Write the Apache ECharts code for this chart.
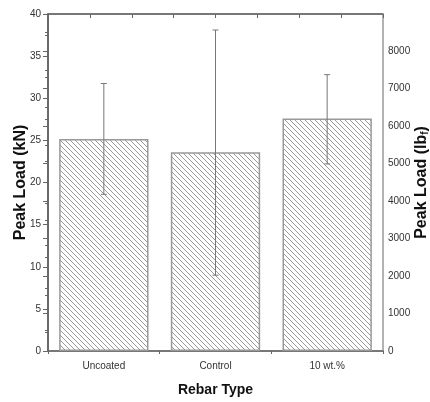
<!DOCTYPE html>
<html>
<head>
<meta charset="utf-8">
<script src="https://cdn.jsdelivr.net/npm/echarts@6/dist/echarts.min.js"></script>
<style>
  html, body { margin: 0; padding: 0; background: #fff; }
  #chart { width: 430px; height: 402px; }
</style>
</head>
<body>
<div id="chart"></div>
<script>
// data
const categories = ['Uncoated', 'Control', '10 wt.%'];
const peakLoad = [25.15, 23.6, 27.6];      // kN
const errLow = [18.6, 9.0, 22.2];          // kN
const errHigh = [31.75, 38.1, 32.8];       // kN
const kNtoLbf = 224.809;

// diagonal hatch tile
function hatch() {
  const c = document.createElement('canvas');
  c.width = 5; c.height = 5;
  const g = c.getContext('2d');
  g.strokeStyle = '#999';
  g.lineWidth = 1;
  [-5, 0, 5].forEach(k => {
    g.beginPath();
    g.moveTo(k, 0);
    g.lineTo(k + 5, 5);
    g.stroke();
  });
  return c;
}

const chart = echarts.init(document.getElementById('chart'));
const axisCol = '#666';
const txtCol = '#333';
const font = 'Liberation Sans';

const option = {
  animation: false,
  textStyle: { fontFamily: font },
  grid: {
    left: 48, top: 14, right: 47, bottom: 51,
    outerBoundsMode: 'none', containLabel: false,
    show: true, borderColor: axisCol, borderWidth: 1
  },
  xAxis: [
    {
      type: 'category',
      data: categories,
      position: 'bottom',
      axisLine: { lineStyle: { color: axisCol, width: 1.5 } },
      axisTick: { alignWithLabel: true, length: 5, lineStyle: { color: axisCol } },
      axisLabel: { color: txtCol, fontSize: 10, margin: 10 },
      name: 'Rebar Type',
      nameLocation: 'middle',
      nameGap: 32,
      nameMoveOverlap: false,
      nameTextStyle: { color: '#111', fontSize: 14, fontWeight: 'bold' }
    },
    {
      type: 'value', min: 0, max: 3, interval: 1, position: 'bottom',
      axisLine: { show: false },
      axisTick: { length: 3, lineStyle: { color: axisCol } },
      axisLabel: { show: false }, splitLine: { show: false }
    },
    {
      type: 'value', min: 0, max: 8, interval: 1, position: 'top',
      axisLine: { show: true, lineStyle: { color: axisCol, width: 1.5 } },
      axisTick: { inside: true, length: 4, lineStyle: { color: axisCol } },
      axisLabel: { show: false }, splitLine: { show: false }
    }
  ],
  yAxis: [
    {
      type: 'value', min: 0, max: 40, interval: 5, position: 'left',
      axisLine: { show: true, lineStyle: { color: axisCol, width: 1.5 } },
      axisTick: { show: true, length: 5, lineStyle: { color: axisCol } },
      minorTick: { show: true, splitNumber: 2, length: 3, lineStyle: { color: axisCol } },
      axisLabel: { color: txtCol, fontSize: 10, margin: 7 },
      splitLine: { show: false },
      name: 'Peak Load (kN)',
      nameLocation: 'middle',
      nameGap: 19,
      nameMoveOverlap: false,
      nameTextStyle: { color: '#111', fontSize: 16, fontWeight: 'bold' }
    },
    {
      type: 'value', min: 0, max: 40 * kNtoLbf, interval: 1000, position: 'right',
      axisLine: { show: true, lineStyle: { color: axisCol, width: 1.5 } },
      axisTick: { show: true, inside: true, length: 5, lineStyle: { color: axisCol } },
      minorTick: { show: true, splitNumber: 2, length: 3, lineStyle: { color: axisCol } },
      axisLabel: { color: txtCol, fontSize: 10, margin: 5, showMaxLabel: false, formatter: v => String(v) },
      splitLine: { show: false },
      name: '{a|Peak Load (lb}{s|f}{a|)}',
      nameLocation: 'middle',
      nameGap: 30,
      nameMoveOverlap: false,
      nameTextStyle: {
        rich: {
          a: { color: '#111', fontSize: 16, fontWeight: 'bold', fontFamily: font },
          s: { color: '#111', fontSize: 10, fontWeight: 'bold', fontFamily: font, verticalAlign: 'bottom', padding: [7, 0, 0, 0] }
        }
      }
    }
  ],
  series: [
    {
      type: 'bar',
      data: peakLoad,
      barWidth: '80%',
      itemStyle: {
        color: { image: hatch(), repetition: 'repeat' },
        borderColor: '#999',
        borderWidth: 1.5
      }
    },
    {
      type: 'custom',
      data: categories.map((c, i) => [i, errLow[i], errHigh[i]]),
      z: 5,
      renderItem: function (params, api) {
        const lo = api.coord([api.value(0), api.value(1)]);
        const hi = api.coord([api.value(0), api.value(2)]);
        const w = 3;
        const st = { stroke: '#777', lineWidth: 1 };
        return {
          type: 'group',
          children: [
            { type: 'line', shape: { x1: hi[0], y1: hi[1], x2: lo[0], y2: lo[1] }, style: st },
            { type: 'line', shape: { x1: hi[0] - w, y1: hi[1], x2: hi[0] + w, y2: hi[1] }, style: st },
            { type: 'line', shape: { x1: lo[0] - w, y1: lo[1], x2: lo[0] + w, y2: lo[1] }, style: st }
          ]
        };
      }
    }
  ]
};
chart.setOption(option);
</script>
</body>
</html>
